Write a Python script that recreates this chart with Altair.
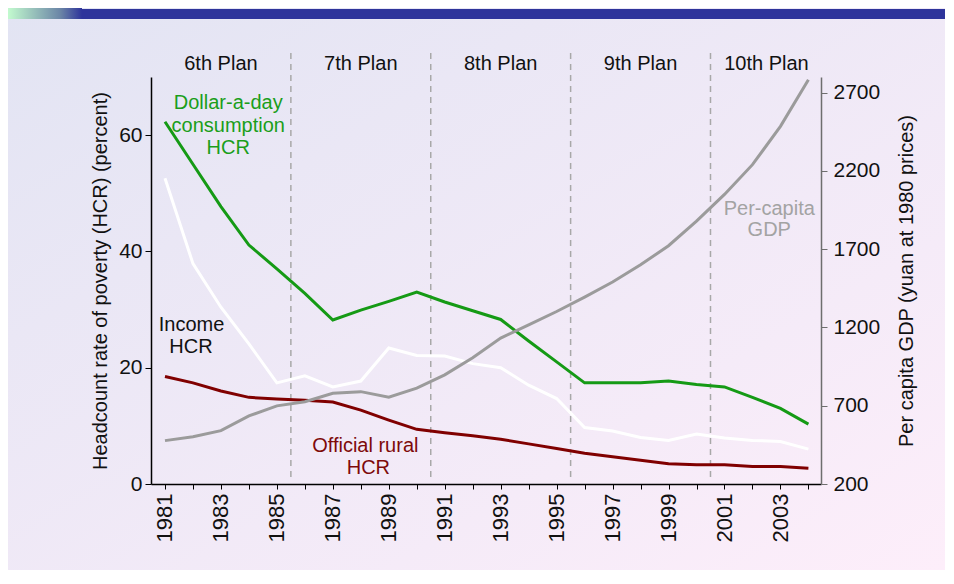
import altair as alt
import pandas as pd

# ---------------- data ----------------
years = list(range(1981, 2005))
dollar_a_day = [62.3, 55.0, 47.7, 41.1, 37.0, 32.8, 28.2, 29.9, 31.4, 33.0, 31.3, 29.8,
                28.3, 24.6, 21.0, 17.4, 17.4, 17.4, 17.7, 17.1, 16.7, 14.9, 13.0, 10.3]
income_hcr = [52.6, 37.9, 30.4, 24.1, 17.4, 18.6, 16.7, 17.7, 23.4, 22.1, 22.0, 20.7,
              20.0, 17.0, 14.7, 9.7, 9.1, 8.0, 7.5, 8.6, 7.9, 7.5, 7.3, 6.0]
official_rural = [18.5, 17.4, 16.0, 14.9, 14.6, 14.4, 14.1, 12.7, 11.0, 9.4, 8.8, 8.3,
                  7.7, 6.9, 6.1, 5.3, 4.7, 4.1, 3.5, 3.3, 3.3, 3.0, 3.0, 2.7]
gdp_per_capita = [477, 502, 541, 635, 699, 726, 780, 790, 754, 812, 897, 1006,
                  1132, 1217, 1302, 1394, 1490, 1600, 1722, 1879, 2050, 2240, 2485, 2783]

plan_names = ["6th Plan", "7th Plan", "8th Plan", "9th Plan", "10th Plan"]
plan_centers = [1983, 1988, 1993, 1998, 2002.5]
plan_bounds = [1985.5, 1990.5, 1995.5, 2000.5]

series_names = ["Dollar-a-day", "Income", "Official rural"]
series_colors = ["#159A15", "#FFFFFF", "#800000"]

label_text = ["Dollar-a-day", "consumption", "HCR", "Income", "HCR",
              "Official rural", "HCR", "Per-capita", "GDP"]
label_year = [1983.26, 1983.26, 1983.26, 1981.95, 1981.93, 1988.16, 1988.27, 2002.6, 2002.6]
label_value = [65.5, 61.5, 57.8, 27.3, 23.5, 6.6, 2.8, 47.3, 43.7]
label_color = ["#1A9E1A", "#1A9E1A", "#1A9E1A", "#111111", "#111111",
               "#7E0A0A", "#7E0A0A", "#A3A3A3", "#A3A3A3"]

# ---------------- layout ----------------
W, H = 670, 407
PAD = {"left": 143, "top": 69, "right": 124, "bottom": 86}
FONT = "Liberation Sans, Arial, sans-serif"
FS = 20

hcr = pd.DataFrame({
    "year": years * 3,
    "value": dollar_a_day + income_hcr + official_rural,
    "series": [series_names[0]] * 24 + [series_names[1]] * 24 + [series_names[2]] * 24,
})
gdp_df = pd.DataFrame({"year": years, "gdp": gdp_per_capita})
plans = pd.DataFrame({"year": plan_centers, "label": plan_names})
bounds = pd.DataFrame({"year": plan_bounds})
labels = pd.DataFrame({"year": label_year, "value": label_value,
                       "text": label_text, "color": label_color})
one = pd.DataFrame({"a": [0]})

x_scale = alt.Scale(domain=[1980.5, 2004.45], nice=False, zero=False)
x_axis = alt.Axis(values=years, labelExpr="datum.value % 2 == 1 ? '' + datum.value : ''",
                  labelAngle=270, labelFont=FONT, labelFontSize=22, labelColor="#111111",
                  tickSize=5, tickColor="#000000", domainColor="#000000", domainWidth=1.5,
                  labelPadding=4, labelOverlap=False, grid=False, title=None, zindex=2)


def X(field="year"):
    return alt.X(f"{field}:Q", scale=x_scale, axis=x_axis)


left_scale = alt.Scale(domain=[0, 70], nice=False, zero=True)
left_axis = alt.Axis(values=[0, 20, 40, 60], format="d",
                     title="Headcount rate of poverty (HCR) (percent)",
                     titleFont=FONT, titleFontSize=FS, titleFontWeight="normal",
                     titleColor="#111111", titlePadding=8,
                     labelFont=FONT, labelFontSize=FS + 1, labelColor="#111111", labelPadding=3,
                     tickSize=6, tickColor="#000000", domainColor="#000000", domainWidth=1.5,
                     grid=False, zindex=2)


def YL(field="value"):
    return alt.Y(f"{field}:Q", scale=left_scale, axis=left_axis)


bg = alt.Chart(one).mark_rect(
    fill=alt.LinearGradient(gradient="linear", x1=0, y1=0, x2=1, y2=1,
                            stops=[alt.GradientStop(offset=0, color="#E2E4F3"),
                                   alt.GradientStop(offset=1, color="#FDEEFA")])
).encode(x=alt.value(-143), x2=alt.value(W + 124), y=alt.value(-69), y2=alt.value(H + 86))

banner = alt.Chart(one).mark_rect(fill="#2E349B").encode(
    x=alt.value(-69), x2=alt.value(794), y=alt.value(-68), y2=alt.value(-58))

banner_fade = alt.Chart(one).mark_rect(
    fill=alt.LinearGradient(gradient="linear", x1=0, y1=0, x2=1, y2=0,
                            stops=[alt.GradientStop(offset=0, color="#C6FFD0"),
                                   alt.GradientStop(offset=0.72, color="#6A84A6"),
                                   alt.GradientStop(offset=1, color="#2E349B")])
).encode(x=alt.value(-145), x2=alt.value(-69), y=alt.value(-69), y2=alt.value(-58))

rules = alt.Chart(bounds).mark_rule(color="#A8A8A8", strokeWidth=1.5, strokeDash=[6, 5]).encode(
    x=X(), y=alt.value(-24), y2=alt.value(H - 5))

plan_text = alt.Chart(plans).mark_text(font=FONT, fontSize=FS, color="#111111",
                                       baseline="middle", align="center").encode(
    x=X(), y=alt.value(-13), text="label:N")

lines = alt.Chart(hcr).mark_line(strokeWidth=3).encode(
    x=X(), y=YL(),
    color=alt.Color("series:N", scale=alt.Scale(domain=series_names, range=series_colors),
                    legend=None),
    order="year:Q")

annot = alt.Chart(labels).mark_text(font=FONT, fontSize=FS, baseline="middle",
                                    align="center").encode(
    x=X(), y=YL(), text="text:N", color=alt.Color("color:N", scale=None))

left = alt.layer(bg, banner_fade, banner, rules, plan_text, lines, annot)

right = alt.Chart(gdp_df).mark_line(strokeWidth=3, color="#9B9B9B").encode(
    x=X(),
    y=alt.Y("gdp:Q", scale=alt.Scale(domain=[200, 2800], nice=False, zero=False),
            axis=alt.Axis(orient="right", values=[200, 700, 1200, 1700, 2200, 2700], format="d",
                          title="Per capita GDP (yuan at 1980 prices)", titleAngle=270,
                          titleBaseline="top",
                          titleFont=FONT, titleFontSize=FS, titleFontWeight="normal",
                          titleColor="#111111", titlePadding=17,
                          labelFont=FONT, labelFontSize=FS + 1, labelColor="#111111",
                          labelPadding=6, tickSize=6, tickColor="#6E6E6E",
                          domainColor="#6E6E6E", domainWidth=1.5, grid=False, zindex=2)))

chart = alt.layer(left, right).resolve_scale(y="independent").properties(
    width=W, height=H, padding=PAD, autosize=alt.AutoSizeParams(type="none"),
    background="#FFFFFF"
).configure_view(stroke=None)

chart.save("out.html", embed_options={"renderer": "svg", "actions": False})
